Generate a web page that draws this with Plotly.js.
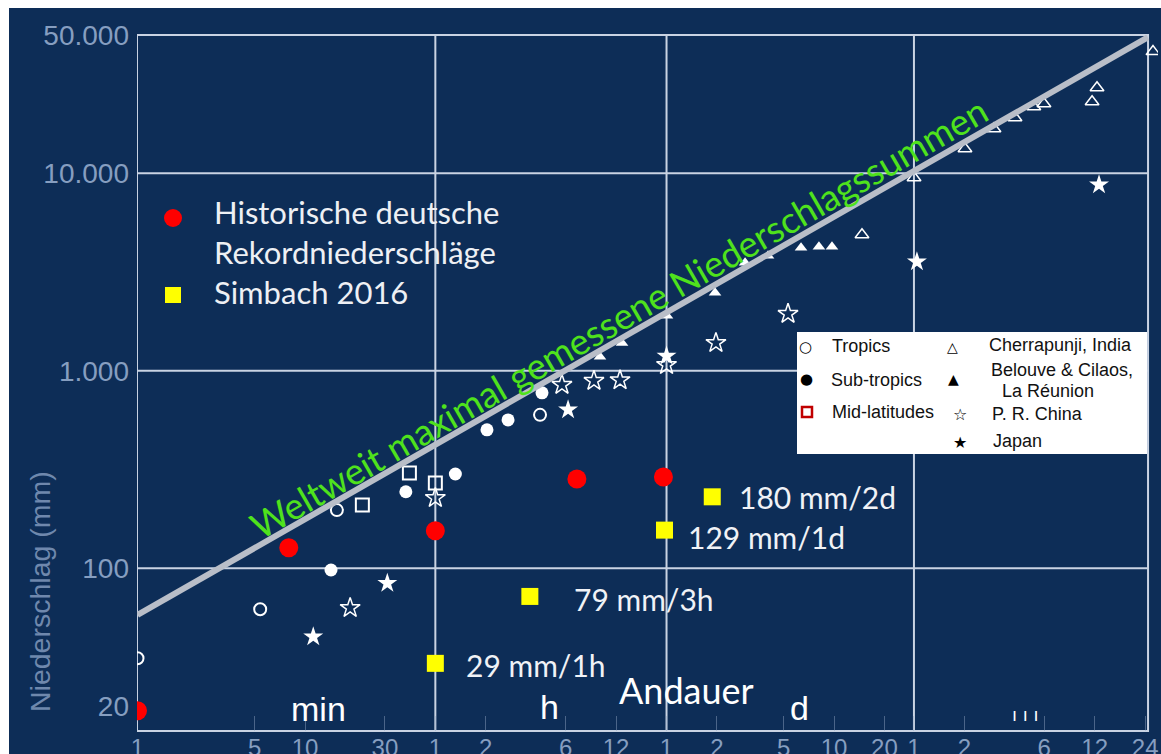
<!DOCTYPE html>
<html><head><meta charset="utf-8">
<script src="https://cdn.plot.ly/plotly-3.0.1.min.js"></script>
<style>html,body{margin:0;padding:0;background:#fff}#chart{width:1161px;height:754px}</style>
</head><body><div id="chart"></div>
<script>
// ---- axis ticks (x in minutes) ----
const tickMinutes = [1,5,10,30,60,120,360,720,1440,2880,7200,14400,28800,43200,86400,259200,518400,1036800];
const tickLabels  = ['1','5','10','30','1','2','6','12','1','2','5','10','20','1','2','6','12','24'];
const yTickVals   = [20,100,1000,10000,50000];
const yTickLabels = ['20','100','1.000','10.000','50.000'];
const gridMinutes = [60,1440,43200];
const gridMm      = [100,1000,10000];
const frameMinutes = [0.993,1079000];

// ---- world records (duration in minutes, precipitation in mm) ----
const tropicsX    = [1,5.4,15.5,253];
const tropicsY    = [35,62,197,598];
const subtropX    = [14.3,40,79,122,163,260];
const subtropY    = [98,244,300,502,564,773];
const midlatX     = [22,42,60];
const midlatY     = [209,304,270];
const chinaX      = [18.6,60,342,531,760,1440,2840,7650];
const chinaY      = [63,227,849,889,896,1071,1384,1942];
const japanX      = [11.2,31,372,1440,45000,550000];
const japanY      = [45,84,634,1189,3560,8750];
const cherraX     = [21150,43250,87100,129800,173300,224500,258000,500000,535000,1155000];
const cherraY     = [4880,9490,13310,16800,19100,21730,22500,23000,27100,41300];
const belouveX    = [577,781,1449,2805,4240,5810,9150,11700,14000];
const belouveY    = [1176,1384,1897,2481,3520,3820,4195,4244,4244];
const envelopeX   = [1,1075000];
const envelopeY   = [58,48800];

// ---- German records & Simbach 2016 ----
const germanX     = [1,8,60,420,1380];
const germanY     = [19,127,155,283,290];
const simbachX    = [60,220,1400,2700];
const simbachY    = [33,72,156,230];
const simbachText = ['29 mm/1h','79 mm/3h','129 mm/1d','180 mm/2d'];
const simbachShiftX = [29,42,22,25];
const simbachShiftY = [-2,-3,-7,0];

// ---- layout helpers (pixel -> paper) ----
const L=137, R=1158, T=35, B=731;
const PX = p => (p-L)/(R-L);
const PY = p => (B-p)/(B-T);
const NAVY = '#0d2d57';
const GRID = '#c9d3e3';
const TICKC = '#869ec0';

function pts(x,y,marker){return {x:x,y:y,type:'scatter',mode:'markers',marker:marker,hoverinfo:'skip',showlegend:false};}
const traces = [
  pts(tropicsX,tropicsY,{symbol:'circle-open',size:12,color:'#ffffff',line:{width:2,color:'#ffffff'}}),
  pts(subtropX,subtropY,{symbol:'circle',size:13,color:'#ffffff'}),
  pts(midlatX,midlatY,{symbol:'square-open',size:13,color:'#ffffff',line:{width:2,color:'#ffffff'}}),
  pts(chinaX,chinaY,{symbol:'star-open',size:15,color:'#ffffff',line:{width:1.5,color:'#ffffff'}}),
  pts(japanX,japanY,{symbol:'star',size:15,color:'#ffffff'}),
  pts(cherraX,cherraY,{symbol:'triangle-up-open',size:12,color:'#ffffff',line:{width:1.5,color:'#ffffff'}}),
  pts(belouveX,belouveY,{symbol:'triangle-up',size:11,color:'#ffffff'}),
  {x:envelopeX,y:envelopeY,type:'scatter',mode:'lines',line:{color:'#b9bec8',width:6},hoverinfo:'skip',showlegend:false},
  pts(germanX,germanY,{symbol:'circle',size:19,color:'#ff0000'}),
  pts(simbachX,simbachY,{symbol:'square',size:17,color:'#ffff00'})
];

const shapes = [];
// plot frame
shapes.push({type:'rect',xref:'x',yref:'paper',x0:frameMinutes[0],x1:frameMinutes[1],y0:0,y1:1,line:{color:GRID,width:2},fillcolor:'rgba(0,0,0,0)',layer:'below'});
gridMinutes.forEach(m=>shapes.push({type:'line',xref:'x',yref:'paper',x0:m,x1:m,y0:0,y1:1,line:{color:GRID,width:2},layer:'below'}));
gridMm.forEach(v=>shapes.push({type:'line',xref:'x',yref:'y',x0:frameMinutes[0],x1:frameMinutes[1],y0:v,y1:v,line:{color:GRID,width:2},layer:'below'}));
// white page margins
shapes.push({type:'rect',xref:'paper',yref:'paper',x0:PX(0),x1:PX(1161),y0:PY(8),y1:PY(0),fillcolor:'#ffffff',line:{width:0}});
shapes.push({type:'rect',xref:'paper',yref:'paper',x0:PX(0),x1:PX(9),y0:PY(754),y1:PY(0),fillcolor:'#ffffff',line:{width:0}});
// top-left legend symbols
shapes.push({type:'circle',xref:'paper',yref:'paper',x0:PX(164),x1:PX(182),y0:PY(227),y1:PY(209),fillcolor:'#ff0000',line:{width:0}});
shapes.push({type:'rect',xref:'paper',yref:'paper',x0:PX(165),x1:PX(181),y0:PY(303),y1:PY(287),fillcolor:'#ffff00',line:{width:0}});
// white legend box
shapes.push({type:'rect',xref:'paper',yref:'paper',x0:PX(797),x1:PX(1147),y0:PY(454),y1:PY(332),fillcolor:'#ffffff',line:{width:0}});
shapes.push({type:'rect',xref:'paper',yref:'paper',x0:PX(802),x1:PX(812),y0:PY(417),y1:PY(407),fillcolor:'#ffffff',line:{color:'#c00000',width:2.5}});

const annotations = [];
function txt(text,x,y,size,color,family,anchor,extra){
  annotations.push(Object.assign({text:text,xref:'paper',yref:'paper',x:PX(x),y:PY(y),showarrow:false,
    xanchor:anchor||'left',yanchor:'middle',font:{size:size,color:color,family:family}},extra||{}));
}
const LATO = 'Lato, "Open Sans", sans-serif';
const ARIAL = '"Liberation Sans", Arial, sans-serif';
// legend top-left
txt('Historische deutsche',212,212,31,'#eef0f4',LATO);
txt('Rekordniederschläge',212,252,31,'#eef0f4',LATO);
txt('Simbach 2016',212,292,31,'#eef0f4',LATO);
// rotated envelope label
txt('Weltweit maximal gemessene Niederschlagssummen',618,318,36.5,'#4fe21c',LATO,'center',{textangle:-30});
// unit labels
txt('min',318,709,34,'#ffffff',ARIAL,'center');
txt('h',549,707,34,'#ffffff',ARIAL,'center');
txt('Andauer',686,690,36,'#ffffff',LATO,'center');
txt('d',799,708,34,'#ffffff',ARIAL,'center');
txt('ı ı ı',1025,714,18,'#ffffff','"DejaVu Sans"','center');
// y title
txt('Niederschlag (mm)',40,592,28.5,'#6f88ad',ARIAL,'center',{textangle:-90});
// white legend box entries
const SYM = '"DejaVu Sans", sans-serif';
txt('○',805,347,15,'#000000',SYM,'center');
txt('●',806,379,15,'#000000',SYM,'center');
txt('△',952,347,14,'#000000',SYM,'center');
txt('▲',953,379,14,'#000000',SYM,'center');
txt('☆',960,414,16,'#000000',SYM,'center');
txt('★',960,442,16,'#000000',SYM,'center');
txt('Tropics',830,346,18,'#111111',ARIAL);
txt('Sub-tropics',829,380,18,'#111111',ARIAL);
txt('Mid-latitudes',830,412,18,'#111111',ARIAL);
txt('Cherrapunji, India',987,345,18,'#111111',ARIAL);
txt('Belouve & Cilaos,',989,370,18,'#111111',ARIAL);
txt('La Réunion',1000,391,18,'#111111',ARIAL);
txt('P. R. China',990,414,18,'#111111',ARIAL);
txt('Japan',991,441,18,'#111111',ARIAL);
// Simbach value labels attached to the points
simbachText.forEach((t,i)=>annotations.push({text:t,xref:'x',yref:'y',x:Math.log10(simbachX[i]),y:Math.log10(simbachY[i]),
  showarrow:false,xanchor:'left',yanchor:'middle',xshift:simbachShiftX[i],yshift:simbachShiftY[i],
  font:{size:30,color:'#f0f2f6',family:LATO}}));

const layout = {
  width:1161,height:754,
  margin:{l:137,r:3,t:35,b:23,pad:0},
  paper_bgcolor:NAVY,plot_bgcolor:NAVY,
  showlegend:false,
  xaxis:{type:'log',range:[-0.003,6.0925],tickvals:tickMinutes,ticktext:tickLabels,
    showgrid:false,zeroline:false,showline:false,
    ticks:'inside',ticklen:15,tickwidth:1,tickcolor:'rgba(150,170,200,0.45)',
    tickfont:{size:24,color:TICKC,family:ARIAL},fixedrange:true},
  yaxis:{type:'log',range:[1.176,4.7],tickvals:yTickVals,ticktext:yTickLabels,
    showgrid:false,zeroline:false,showline:false,
    ticks:'',ticklabelstandoff:7,
    tickfont:{size:28,color:TICKC,family:ARIAL},fixedrange:true},
  shapes:shapes,annotations:annotations
};
Plotly.newPlot('chart',traces,layout,{staticPlot:true,displayModeBar:false});
</script></body></html>
